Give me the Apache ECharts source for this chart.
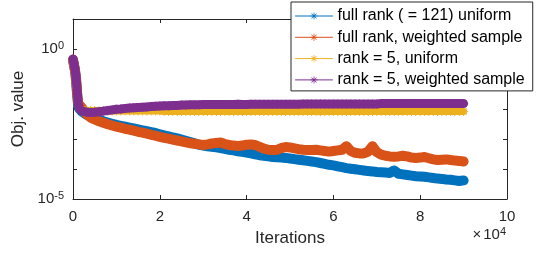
<!DOCTYPE html>
<html>
<head>
<meta charset="utf-8">
<script src="https://cdn.jsdelivr.net/npm/echarts@6/dist/echarts.min.js"></script>
<style>
html,body{margin:0;padding:0;background:#fff;}
#chart{width:560px;height:254px;}
</style>
</head>
<body>
<div id="chart"></div>
<script>
// Iteration counts (x values)
const iterations = [0,100,200,300,400,500,600,700,800,1000,1200,1500,2000,
  3000,4000,5000,6000,7000,8000,9000,10000,
  11000,12000,13000,14000,15000,16000,17000,18000,19000,20000,
  21000,22000,23000,24000,25000,26000,27000,28000,29000,30000,
  31000,32000,33000,34000,35000,36000,37000,38000,39000,40000,
  41000,42000,43000,44000,45000,46000,47000,48000,49000,50000,
  51000,52000,53000,54000,55000,56000,57000,58000,59000,60000,
  61000,62000,63000,64000,65000,66000,67000,68000,69000,70000,
  71000,72000,73000,74000,75000,76000,77000,78000,79000,80000,
  81000,82000,83000,84000,85000,86000,87000,88000,89000,90000];

// Objective values, given as log10(value)
const fullRankUniformLog10 = [-0.38,-0.45,-0.52,-0.60,-0.68,-0.78,-0.90,-1.05,-1.25,-1.60,-1.90,-2.00,-2.08,
  -2.18,-2.25,-2.31,-2.36,-2.41,-2.45,-2.49,-2.53,
  -2.56,-2.59,-2.62,-2.65,-2.68,-2.71,-2.74,-2.77,-2.80,-2.84,
  -2.88,-2.91,-2.95,-2.98,-3.02,-3.06,-3.10,-3.14,-3.19,-3.22,
  -3.24,-3.26,-3.28,-3.30,-3.33,-3.36,-3.38,-3.41,-3.43,-3.45,
  -3.48,-3.51,-3.54,-3.56,-3.58,-3.60,-3.61,-3.62,-3.63,-3.65,
  -3.67,-3.69,-3.71,-3.73,-3.75,-3.77,-3.80,-3.83,-3.86,-3.88,
  -3.91,-3.94,-3.97,-3.99,-4.01,-4.03,-4.05,-4.07,-4.08,-4.10,
  -4.11,-4.12,-4.13,-4.05,-4.16,-4.18,-4.20,-4.22,-4.24,-4.25,
  -4.26,-4.28,-4.30,-4.32,-4.33,-4.35,-4.36,-4.38,-4.40,-4.38];

const fullRankWeightedLog10 = [-0.36,-0.43,-0.50,-0.58,-0.66,-0.75,-0.85,-0.98,-1.15,-1.55,-1.80,-1.85,-1.95,
  -2.15,-2.28,-2.35,-2.41,-2.46,-2.51,-2.55,-2.59,
  -2.62,-2.66,-2.69,-2.72,-2.76,-2.79,-2.82,-2.86,-2.89,-2.93,
  -2.96,-2.99,-3.02,-3.05,-3.08,-3.11,-3.14,-3.16,-3.18,-3.20,
  -3.18,-3.15,-3.13,-3.12,-3.17,-3.20,-3.22,-3.23,-3.22,-3.19,
  -3.18,-3.20,-3.26,-3.32,-3.36,-3.37,-3.36,-3.30,-3.27,-3.28,
  -3.31,-3.34,-3.36,-3.37,-3.37,-3.36,-3.38,-3.40,-3.42,-3.40,
  -3.38,-3.36,-3.24,-3.40,-3.46,-3.48,-3.48,-3.42,-3.24,-3.44,
  -3.52,-3.56,-3.58,-3.59,-3.58,-3.56,-3.58,-3.62,-3.63,-3.62,
  -3.60,-3.64,-3.68,-3.70,-3.69,-3.68,-3.70,-3.72,-3.73,-3.75];

const rank5UniformLog10 = [-0.40,-0.48,-0.55,-0.63,-0.72,-0.82,-0.93,-1.08,-1.30,-1.65,-1.92,-1.98,-2.02,
  -2.04,-2.05,-2.05,-2.06,-2.06,-2.07,-2.07,-2.07,
  -2.07,-2.07,-2.07,-2.07,-2.07,-2.07,-2.07,-2.07,-2.07,-2.07,
  -2.08,-2.08,-2.08,-2.08,-2.08,-2.08,-2.08,-2.08,-2.08,-2.08,
  -2.08,-2.08,-2.08,-2.08,-2.08,-2.08,-2.08,-2.08,-2.08,-2.08,
  -2.08,-2.08,-2.08,-2.08,-2.08,-2.08,-2.08,-2.08,-2.08,-2.08,
  -2.08,-2.08,-2.08,-2.08,-2.08,-2.08,-2.09,-2.08,-2.08,-2.08,
  -2.08,-2.08,-2.08,-2.08,-2.08,-2.08,-2.08,-2.08,-2.08,-2.08,
  -2.08,-2.08,-2.08,-2.08,-2.08,-2.08,-2.08,-2.08,-2.08,-2.08,
  -2.08,-2.08,-2.08,-2.08,-2.08,-2.08,-2.08,-2.08,-2.08,-2.08];

const rank5WeightedLog10 = [-0.33,-0.40,-0.47,-0.55,-0.63,-0.72,-0.82,-0.95,-1.10,-1.48,-1.85,-1.98,-2.06,
  -2.10,-2.12,-2.11,-2.09,-2.07,-2.05,-2.03,-2.01,
  -2.00,-1.98,-1.97,-1.96,-1.95,-1.94,-1.93,-1.92,-1.91,-1.90,
  -1.89,-1.89,-1.88,-1.88,-1.87,-1.87,-1.86,-1.86,-1.86,-1.85,
  -1.85,-1.85,-1.85,-1.85,-1.85,-1.85,-1.85,-1.84,-1.85,-1.85,
  -1.84,-1.84,-1.84,-1.84,-1.84,-1.84,-1.84,-1.84,-1.84,-1.84,
  -1.84,-1.84,-1.83,-1.83,-1.83,-1.83,-1.83,-1.83,-1.83,-1.83,
  -1.83,-1.83,-1.83,-1.83,-1.83,-1.83,-1.83,-1.83,-1.83,-1.83,
  -1.82,-1.82,-1.82,-1.82,-1.82,-1.82,-1.82,-1.82,-1.82,-1.82,
  -1.82,-1.82,-1.82,-1.82,-1.82,-1.82,-1.82,-1.82,-1.82,-1.82];

const seriesNames = ['full rank ( = 121) uniform','full rank, weighted sample','rank = 5, uniform','rank = 5, weighted sample'];
const seriesColors = ['#0072BD','#D95319','#EDB120','#7E2F8E'];
const seriesLog10 = [fullRankUniformLog10, fullRankWeightedLog10, rank5UniformLog10, rank5WeightedLog10];
const xTickLabels = ['0','2','4','6','8','10'];

const FONT = "'Liberation Sans', Arial, Helvetica, sans-serif";
const AX = '#262626';
const STAR = 'path://M45 0L55 0L55 100L45 100Z M0 45L100 45L100 55L0 55Z M11.5 18.5L18.5 11.5L88.5 81.5L81.5 88.5Z M81.5 11.5L88.5 18.5L18.5 88.5L11.5 81.5Z';
const bandWidths = [10, 10, 7, 9];

const chart = echarts.init(document.getElementById('chart'), null, {renderer: 'canvas'});

const series = seriesNames.map((name, i) => ({
  name,
  type: 'line',
  data: iterations.map((it, j) => [it, Math.pow(10, seriesLog10[i][j])]),
  color: seriesColors[i],
  symbol: STAR,
  symbolSize: 9,
  showAllSymbol: true,
  lineStyle: {width: bandWidths[i], color: seriesColors[i], join: 'round', cap: 'round'},
  itemStyle: {color: seriesColors[i]},
  z: 2 + i,
  animation: false,
  emphasis: {disabled: true}
}));

const yRich = {
  b: {fontSize: 15, fontFamily: FONT, color: AX, lineHeight: 18},
  s: {fontSize: 11, fontFamily: FONT, color: AX, verticalAlign: 'top', lineHeight: 11}
};

chart.setOption({
  animation: false,
  backgroundColor: '#fff',
  grid: {left: 73, right: 53, top: 19, bottom: 55, show: false},
  legend: {
    orient: 'vertical', left: 291, top: 2,
    padding: [6, 8, 3, 4],
    itemWidth: 37, itemHeight: 9, itemGap: 5.3,
    borderColor: AX, borderWidth: 1, backgroundColor: '#fff',
    textStyle: {fontSize: 16, fontFamily: FONT, color: '#000'},
    lineStyle: {width: 1},
    data: seriesNames,
    selectedMode: false,
    z: 10
  },
  xAxis: [{
    type: 'value', min: 0, max: 100000, interval: 20000,
    position: 'bottom',
    axisLine: {show: true, onZero: false, lineStyle: {color: AX, width: 1}},
    axisTick: {show: true, inside: true, length: 4, lineStyle: {color: AX}},
    splitLine: {show: false},
    axisLabel: {
      margin: 10, fontSize: 15, fontFamily: FONT, color: AX,
      formatter: (v) => xTickLabels[Math.round(v / 20000)]
    },
    name: 'Iterations', nameLocation: 'middle', nameGap: 31,
    nameTextStyle: {fontSize: 17, fontFamily: FONT, color: AX}
  }, {
    type: 'value', min: 0, max: 100000, interval: 20000,
    position: 'top',
    axisLine: {show: true, onZero: false, lineStyle: {color: AX, width: 1}},
    axisTick: {show: true, inside: true, length: 4, lineStyle: {color: AX}},
    splitLine: {show: false},
    axisLabel: {show: false}
  }],
  yAxis: [{
    type: 'log', logBase: 10, min: 1e-5, max: 10, interval: 1,
    position: 'left',
    axisLine: {show: true, onZero: false, lineStyle: {color: AX, width: 1}},
    axisTick: {show: true, inside: true, length: 4, lineStyle: {color: AX}},
    splitLine: {show: false},
    axisLabel: {
      margin: 9,
      formatter: (v) => {
        const e = Math.round(Math.log10(v));
        if (e === 0) return '{b|10}{s|0}';
        if (e === -5) return '{b|10}{s|-5}';
        return '';
      },
      rich: yRich
    },
    name: 'Obj. value', nameLocation: 'middle', nameGap: 38, nameRotate: 90,
    nameTextStyle: {fontSize: 17, fontFamily: FONT, color: AX}
  }, {
    type: 'log', logBase: 10, min: 1e-5, max: 10, interval: 1,
    position: 'right',
    axisLine: {show: true, onZero: false, lineStyle: {color: AX, width: 1}},
    axisTick: {show: true, inside: true, length: 4, lineStyle: {color: AX}},
    splitLine: {show: false},
    axisLabel: {show: false}
  }],
  graphic: [{
    type: 'text', right: 54, top: 226, z: 10,
    style: {
      text: '{m|×}{b|10}{s|4}',
      rich: {
        m: {fontSize: 15, fontFamily: FONT, fill: AX, color: AX, lineHeight: 18, padding: [0, 2, 0, 0]},
        b: {fontSize: 15, fontFamily: FONT, fill: AX, color: AX, lineHeight: 18},
        s: {fontSize: 11, fontFamily: FONT, fill: AX, color: AX, verticalAlign: 'top', lineHeight: 11}
      }
    }
  }],
  series
});
</script>
</body>
</html>
